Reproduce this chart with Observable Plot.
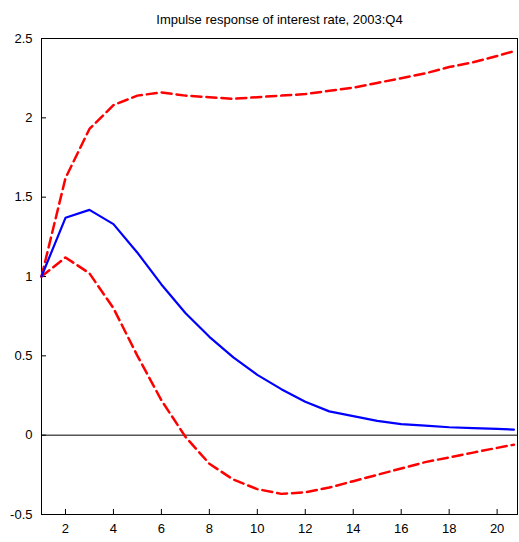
<!DOCTYPE html>
<html><head>
<script src="https://cdn.jsdelivr.net/npm/d3@7"></script>
<script src="https://cdn.jsdelivr.net/npm/@observablehq/plot@0.6"></script>
<style>body{margin:0;background:#fff}</style>
</head><body><div id="chart"></div>
<script>
const steps = [1,2,3,4,5,6,7,8,9,10,11,12,13,14,15,16,17,18,19,20,20.7];
const response = [1.0,1.37,1.42,1.33,1.15,0.95,0.77,0.62,0.49,0.38,0.29,0.21,0.15,0.12,0.09,0.07,0.06,0.05,0.045,0.04,0.035];
const upper = [1.0,1.62,1.93,2.08,2.14,2.16,2.14,2.13,2.12,2.13,2.14,2.15,2.17,2.19,2.22,2.25,2.28,2.32,2.35,2.39,2.42];
const lower = [1.0,1.12,1.02,0.8,0.5,0.22,-0.01,-0.18,-0.28,-0.34,-0.37,-0.36,-0.33,-0.29,-0.25,-0.21,-0.17,-0.14,-0.11,-0.08,-0.06];
const xTicks = [2,4,6,8,10,12,14,16,18,20];
const yTicks = [-0.5,0,0.5,1,1.5,2,2.5];

const rows = (ys) => steps.map((s, i) => ({s, v: ys[i]}));

const chart = Plot.plot({
  width: 519, height: 542,
  marginTop: 38, marginBottom: 28, marginLeft: 41, marginRight: 2,
  style: {fontFamily: "Liberation Sans, Arial, sans-serif", fontSize: "13px", color: "#000"},
  x: {domain: [1, 20.85], ticks: xTicks, label: null, tickSize: -5},
  y: {domain: [-0.5, 2.5], ticks: yTicks, label: null, tickSize: -5, tickFormat: d => String(d)},
  marks: [
    Plot.frame({stroke: "#000"}),
    Plot.ruleY([0], {stroke: "#000"}),
    Plot.line(rows(upper), {x: "s", y: "v", stroke: "red", strokeWidth: 2.5, strokeDasharray: "10,5"}),
    Plot.line(rows(lower), {x: "s", y: "v", stroke: "red", strokeWidth: 2.5, strokeDasharray: "10,5"}),
    Plot.line(rows(response), {x: "s", y: "v", stroke: "blue", strokeWidth: 2.2}),
    Plot.text(["Impulse response of interest rate, 2003:Q4"], {frameAnchor: "top", dy: -24, fontSize: 13})
  ]
});
d3.select("#chart").append(() => chart);
</script>
</body></html>
